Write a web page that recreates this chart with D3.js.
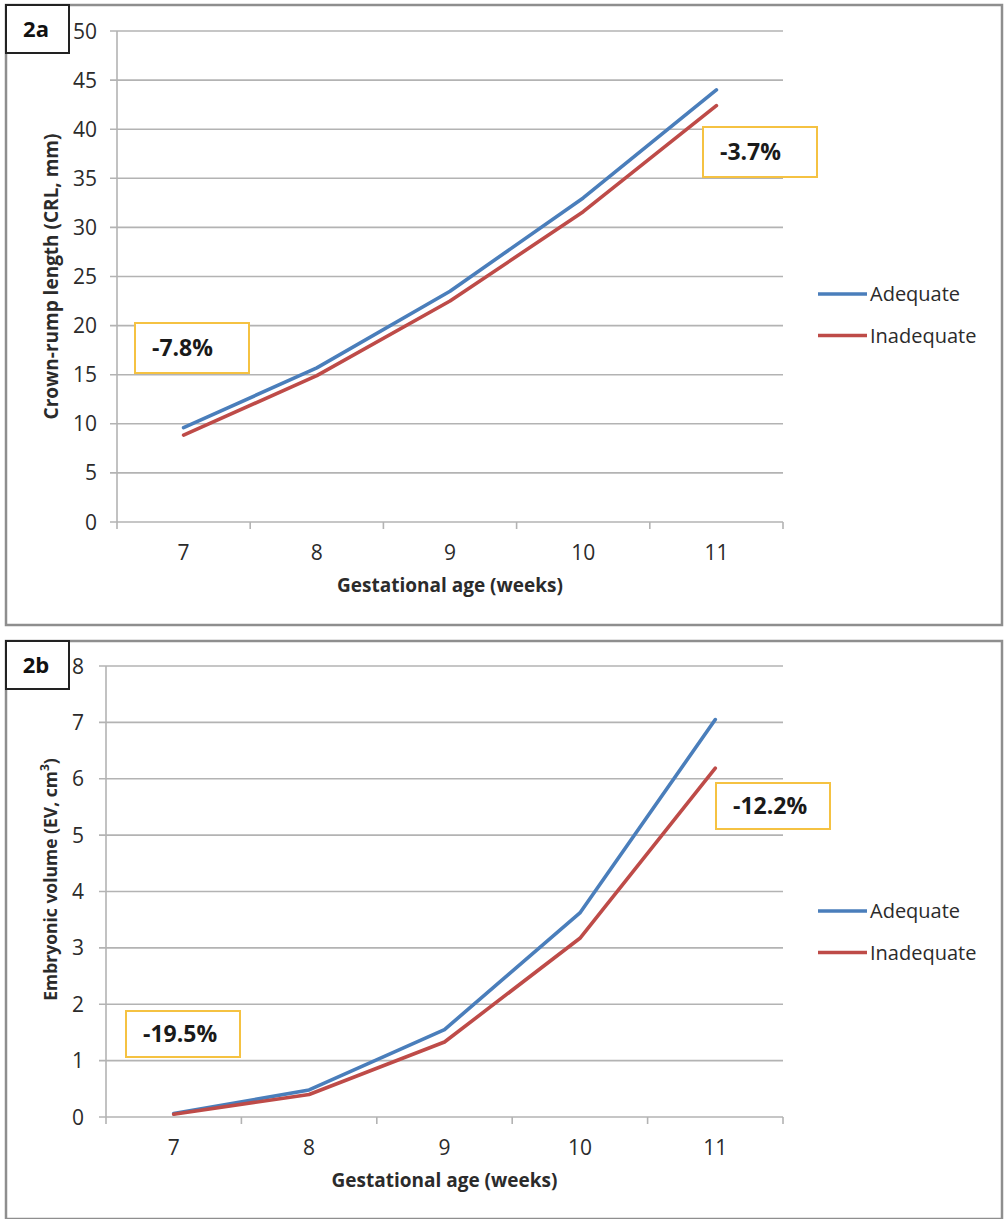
<!DOCTYPE html>
<html>
<head>
<meta charset="utf-8">
<script src="https://cdn.jsdelivr.net/npm/d3@7"></script>
<style>
  html, body { margin: 0; padding: 0; background: #fff; }
  svg { display: block; }
  text { font-family: "Open Sans", "Noto Sans", sans-serif; fill: #2b2b2b; }
</style>
</head>
<body>
<svg id="chart" width="1005" height="1219"></svg>
<script>
// Gestational age categories (weeks)
const weeks = ["7", "8", "9", "10", "11"];

// Panel 2a: crown-rump length (mm)
const crlAdequate   = [9.6, 15.7, 23.5, 33.0, 44.0];
const crlInadequate = [8.85, 14.9, 22.5, 31.6, 42.4];
const crlTicks = [0, 5, 10, 15, 20, 25, 30, 35, 40, 45, 50];
const crlNotes = ["-7.8%", "-3.7%"];

// Panel 2b: embryonic volume (cm³)
const evAdequate   = [0.06, 0.48, 1.55, 3.62, 7.05];
const evInadequate = [0.05, 0.40, 1.33, 3.17, 6.19];
const evTicks = [0, 1, 2, 3, 4, 5, 6, 7, 8];
const evNotes = ["-19.5%", "-12.2%"];

const seriesNames = ["Adequate", "Inadequate"];
const seriesColors = ["#4a7ebb", "#be4b48"];

const svg = d3.select("#chart");

function drawPanel(opt) {
  const g = svg.append("g");

  // panel frame
  g.append("rect")
    .attr("x", opt.frame[0]).attr("y", opt.frame[1])
    .attr("width", opt.frame[2]).attr("height", opt.frame[3])
    .attr("fill", "#fff").attr("stroke", "#8e8e8e").attr("stroke-width", 2.5);

  // panel tag box
  g.append("rect")
    .attr("x", opt.frame[0]).attr("y", opt.frame[1])
    .attr("width", 63).attr("height", 48)
    .attr("fill", "#fff").attr("stroke", "#222").attr("stroke-width", 2);
  g.append("text")
    .attr("x", opt.frame[0] + 30).attr("y", opt.frame[1] + 32)
    .attr("text-anchor", "middle")
    .style("font-size", "22px").style("font-weight", "bold")
    .style("fill", "#111")
    .text(opt.tag);

  const x = d3.scaleBand().domain(weeks).range([opt.left, opt.right]);
  const y = d3.scaleLinear().domain(opt.domain).range([opt.bottom, opt.top]);

  // horizontal gridlines (including the zero line)
  g.append("g").selectAll("line").data(opt.ticks).join("line")
    .attr("x1", opt.left - 7).attr("x2", opt.right)
    .attr("y1", d => y(d)).attr("y2", d => y(d))
    .attr("stroke", "#b3b3b3").attr("stroke-width", 1.6);

  // y axis line
  g.append("line")
    .attr("x1", opt.left).attr("x2", opt.left)
    .attr("y1", y(opt.domain[1])).attr("y2", opt.bottom + 7)
    .attr("stroke", "#b3b3b3").attr("stroke-width", 1.6);

  // category separators on the x axis
  const bounds = weeks.map(w => x(w)).concat([opt.right]);
  g.append("g").selectAll("line").data(bounds.slice(1)).join("line")
    .attr("x1", d => d).attr("x2", d => d)
    .attr("y1", opt.bottom).attr("y2", opt.bottom + 7)
    .attr("stroke", "#b3b3b3").attr("stroke-width", 1.6);

  // y tick labels
  g.append("g").selectAll("text").data(opt.ticks).join("text")
    .attr("x", opt.left - opt.tickPad).attr("y", d => y(d))
    .attr("dy", "0.36em").attr("text-anchor", "end")
    .style("font-size", "21px")
    .text(d => d);

  // x tick labels
  g.append("g").selectAll("text").data(weeks).join("text")
    .attr("x", d => x(d) + x.bandwidth() / 2).attr("y", opt.bottom + 38)
    .attr("text-anchor", "middle")
    .style("font-size", "21px")
    .text(d => d);

  // x title
  g.append("text")
    .attr("x", (opt.left + opt.right) / 2).attr("y", opt.bottom + 70)
    .attr("text-anchor", "middle")
    .style("font-size", "19px").style("font-weight", "bold")
    .text("Gestational age (weeks)");

  // y title
  const yt = g.append("text")
    .attr("transform", `translate(51,${(opt.top + opt.bottom) / 2 + opt.yTitleShift}) rotate(-90)`)
    .attr("text-anchor", "middle").attr("dy", "0.35em")
    .style("font-size", opt.yTitleSize + "px").style("font-weight", "bold");
  opt.yTitle.forEach(part => {
    const t = yt.append("tspan").text(part.t);
    if (part.sup) t.attr("baseline-shift", "super").style("font-size", "12px");
  });

  // series lines
  const line = d3.line()
    .x((d, i) => x(weeks[i]) + x.bandwidth() / 2)
    .y(d => y(d));
  opt.series.forEach((vals, k) => {
    g.append("path").datum(vals)
      .attr("d", line)
      .attr("fill", "none")
      .attr("stroke", seriesColors[k])
      .attr("stroke-width", 3.6)
      .attr("stroke-linejoin", "round")
      .attr("stroke-linecap", "round");
  });

  // percentage difference boxes
  opt.notes.forEach((txt, i) => {
    const b = opt.noteBoxes[i];
    g.append("rect")
      .attr("x", b[0]).attr("y", b[1]).attr("width", b[2]).attr("height", b[3])
      .attr("fill", "#fff").attr("stroke", "#f5c242").attr("stroke-width", 2);
    g.append("text")
      .attr("x", b[0] + 17).attr("y", b[1] + b[3] / 2)
      .attr("dy", "0.36em")
      .style("font-size", "23px").style("font-weight", "bold")
      .style("fill", "#1a1a1a")
      .text(txt);
  });

  // legend
  seriesNames.forEach((name, k) => {
    const ly = opt.legendY + k * 41.5;
    g.append("line")
      .attr("x1", 818).attr("x2", 867).attr("y1", ly).attr("y2", ly)
      .attr("stroke", seriesColors[k]).attr("stroke-width", 3.6);
    g.append("text")
      .attr("x", 870).attr("y", ly).attr("dy", "0.36em")
      .style("font-size", "20px")
      .text(name);
  });
}

drawPanel({
  tag: "2a",
  frame: [6, 5, 996, 620],
  left: 117, right: 783, top: 31, bottom: 522,
  domain: [0, 50], ticks: crlTicks, tickPad: 20,
  series: [crlAdequate, crlInadequate],
  yTitle: [{ t: "Crown-rump length (CRL, mm)" }],
  yTitleSize: 19, yTitleShift: 0,
  notes: crlNotes,
  noteBoxes: [[135, 323, 114, 50], [703, 127, 114, 50]],
  legendY: 294
});

drawPanel({
  tag: "2b",
  frame: [6, 641, 996, 578],
  left: 106, right: 783, top: 666, bottom: 1117,
  domain: [0, 8], ticks: evTicks, tickPad: 22,
  series: [evAdequate, evInadequate],
  yTitle: [{ t: "Embryonic volume (EV, cm" }, { t: "3", sup: true }, { t: ")" }],
  yTitleSize: 17.5, yTitleShift: -12,
  notes: evNotes,
  noteBoxes: [[126, 1011, 114, 46], [716, 783, 114, 46]],
  legendY: 911
});
</script>
</body>
</html>
